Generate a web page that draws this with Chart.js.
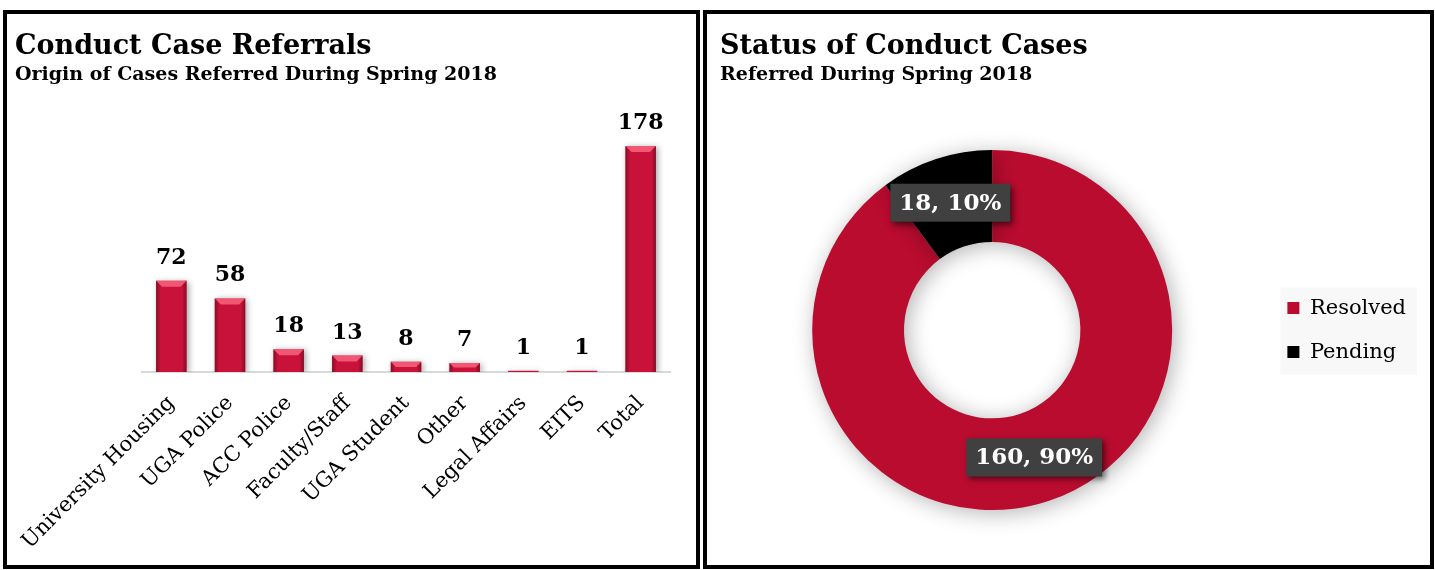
<!DOCTYPE html>
<html>
<head>
<meta charset="utf-8">
<script src="https://cdn.jsdelivr.net/npm/chart.js@4.4.0/dist/chart.umd.min.js"></script>
<style>
  body { margin: 0; background: #fff; width: 1435px; height: 570px; position: relative; overflow: hidden; }
  .panel { position: absolute; top: 10px; height: 559px; box-sizing: border-box; border: 4px solid #000; background: #fff; }
  #p1 { left: 3px; width: 697px; }
  #p2 { left: 703px; width: 731px; }
  canvas { display: block; }
</style>
</head>
<body>
<div class="panel" id="p1"><canvas id="bars" width="689" height="551"></canvas></div>
<div class="panel" id="p2"><canvas id="ring" width="723" height="551"></canvas></div>

<script>
// Data
const origins = ['University Housing', 'UGA Police', 'ACC Police', 'Faculty/Staff', 'UGA Student', 'Other', 'Legal Affairs', 'EITS', 'Total'];
const referrals = [72, 58, 18, 13, 8, 7, 1, 1, 178];

const statuses = ['Resolved', 'Pending'];
const statusCounts = [160, 18];
const statusShares = [90, 10];

const SERIF = "'DejaVu Serif', serif";
const UGA_RED = '#BA0C2F';

// Bars: soft shadow + bevel look on top of the library's bar elements
const barBevel = {
  id: 'barBevel',
  beforeDatasetDraw(chart) {
    const ctx = chart.ctx;
    ctx.save();
    ctx.shadowColor = 'rgba(0,0,0,0.35)';
    ctx.shadowBlur = 6;
    ctx.shadowOffsetX = 2;
    ctx.shadowOffsetY = 1;
  },
  afterDatasetDraw(chart) {
    const ctx = chart.ctx;
    ctx.restore();
    chart.getDatasetMeta(0).data.forEach((bar) => {
      const left = bar.x - bar.width / 2;
      const h = bar.base - bar.y;
      if (h < 2) return;
      const g = ctx.createLinearGradient(left, 0, left + bar.width, 0);
      g.addColorStop(0, 'rgba(60,0,10,0.45)');
      g.addColorStop(0.15, 'rgba(60,0,10,0)');
      g.addColorStop(0.85, 'rgba(60,0,10,0)');
      g.addColorStop(1, 'rgba(60,0,10,0.45)');
      ctx.fillStyle = g;
      ctx.fillRect(left, bar.y, bar.width, h);
      const bev = Math.min(6, h / 2);
      ctx.fillStyle = 'rgba(255,110,135,0.75)';
      ctx.beginPath();
      ctx.moveTo(left, bar.y);
      ctx.lineTo(left + bar.width, bar.y);
      ctx.lineTo(left + bar.width - bev, bar.y + bev);
      ctx.lineTo(left + bev, bar.y + bev);
      ctx.closePath();
      ctx.fill();
    });
  },
  afterDatasetsDraw(chart) {
    const ctx = chart.ctx;
    ctx.save();
    ctx.font = 'bold 22px ' + SERIF;
    ctx.fillStyle = '#000';
    ctx.textAlign = 'center';
    ctx.textBaseline = 'alphabetic';
    chart.getDatasetMeta(0).data.forEach((bar, i) => {
      ctx.fillText(String(referrals[i]), bar.x, bar.y - 17);
    });
    ctx.restore();
  }
};

new Chart(document.getElementById('bars'), {
  type: 'bar',
  data: {
    labels: origins,
    datasets: [{
      data: referrals,
      backgroundColor: '#C8123A',
      borderWidth: 0,
      categoryPercentage: 1,
      barPercentage: 0.52
    }]
  },
  options: {
    responsive: false,
    animation: false,
    devicePixelRatio: 1,
    layout: { padding: { left: 8, right: 26, bottom: 0, top: 0 } },
    plugins: {
      legend: { display: false },
      tooltip: { enabled: false },
      title: {
        display: true,
        text: 'Conduct Case Referrals',
        align: 'start',
        color: '#000',
        font: { family: SERIF, size: 27, weight: 'bold' },
        padding: { top: 17, bottom: 0 }
      },
      subtitle: {
        display: true,
        text: 'Origin of Cases Referred During Spring 2018',
        align: 'start',
        color: '#000',
        font: { family: SERIF, size: 19, weight: 'bold' },
        padding: { top: 0, bottom: 32 }
      }
    },
    scales: {
      x: {
        grid: { display: false, drawTicks: false },
        border: { display: true, color: '#d9d9d9', width: 2 },
        ticks: {
          color: '#000',
          font: { family: SERIF, size: 21 },
          autoSkip: false,
          maxRotation: 45,
          minRotation: 45,
          padding: 19
        },
        afterFit(scale) {
          scale.height = 193;
          scale.paddingLeft = 0;
          scale.paddingRight = 0;
        }
      },
      y: {
        min: 0,
        max: 200,
        grid: { display: false },
        border: { display: false },
        ticks: { display: false },
        afterFit(scale) { scale.width = 127; }
      }
    }
  },
  plugins: [barBevel]
});

// Doughnut: glow behind the ring, boxed value labels, grey legend panel
const ringDecor = {
  id: 'ringDecor',
  beforeDraw(chart) {
    const boxes = chart.legend.legendHitBoxes;
    if (!boxes || !boxes.length) return;
    const l = Math.min(...boxes.map(b => b.left)) - 7;
    const t = Math.min(...boxes.map(b => b.top)) - 10;
    const r = Math.max(...boxes.map(b => b.left + b.width)) + 11;
    const btm = Math.max(...boxes.map(b => b.top + b.height)) + 12;
    const ctx = chart.ctx;
    ctx.save();
    ctx.fillStyle = '#f8f8f8';
    ctx.fillRect(l, t, r - l, btm - t);
    ctx.restore();
  },
  beforeDatasetDraw(chart) {
    const ctx = chart.ctx;
    ctx.save();
    ctx.shadowColor = 'rgba(0,0,0,0.3)';
    ctx.shadowBlur = 22;
    ctx.shadowOffsetX = 3;
    ctx.shadowOffsetY = 3;
  },
  afterDatasetDraw(chart) {
    chart.ctx.restore();
  },
  afterDatasetsDraw(chart) {
    const ctx = chart.ctx;
    ctx.save();
    ctx.font = 'bold 23px ' + SERIF;
    ctx.textAlign = 'center';
    ctx.textBaseline = 'middle';
    chart.getDatasetMeta(0).data.forEach((arc, i) => {
      const p = arc.tooltipPosition();
      const text = statusCounts[i] + ', ' + statusShares[i] + '%';
      const w = ctx.measureText(text).width + 18;
      const h = 38;
      ctx.save();
      ctx.shadowColor = 'rgba(0,0,0,0.55)';
      ctx.shadowBlur = 6;
      ctx.shadowOffsetX = 3;
      ctx.shadowOffsetY = 3;
      ctx.fillStyle = '#404040';
      ctx.fillRect(p.x - w / 2, p.y - h / 2, w, h);
      ctx.restore();
      ctx.fillStyle = '#fff';
      ctx.fillText(text, p.x, p.y + 1);
    });
    ctx.restore();
  }
};

new Chart(document.getElementById('ring'), {
  type: 'doughnut',
  data: {
    labels: statuses,
    datasets: [{
      data: statusCounts,
      backgroundColor: [UGA_RED, '#000000'],
      borderWidth: 0
    }]
  },
  options: {
    responsive: false,
    animation: false,
    devicePixelRatio: 1,
    radius: 180,
    cutout: '49%',
    layout: { padding: { left: 13, right: 14, bottom: 23, top: 0 } },
    plugins: {
      tooltip: { enabled: false },
      title: {
        display: true,
        text: 'Status of Conduct Cases',
        align: 'start',
        color: '#000',
        font: { family: SERIF, size: 27, weight: 'bold' },
        padding: { top: 17, bottom: 0 }
      },
      subtitle: {
        display: true,
        text: 'Referred During Spring 2018',
        align: 'start',
        color: '#000',
        font: { family: SERIF, size: 19, weight: 'bold' },
        padding: { top: 0, bottom: 32 }
      },
      legend: {
        position: 'right',
        fullSize: false,
        labels: {
          color: '#000',
          boxWidth: 12,
          boxHeight: 12,
          padding: 23,
          font: { family: SERIF, size: 21 }
        }
      }
    }
  },
  plugins: [ringDecor]
});
</script>
</body>
</html>
